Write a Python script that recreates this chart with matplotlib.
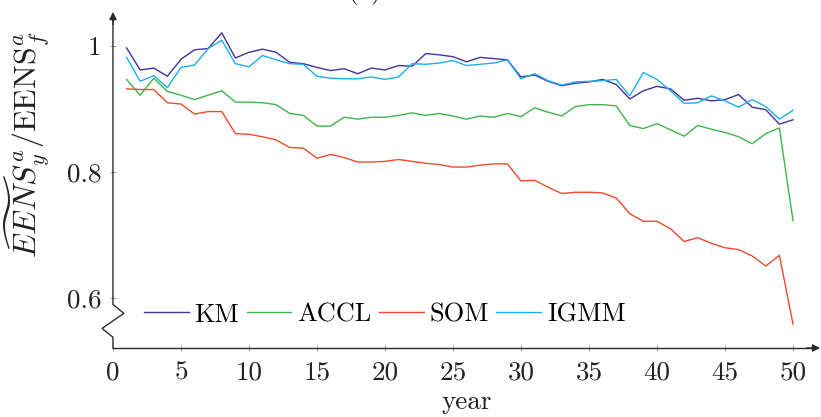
import matplotlib
matplotlib.use("Agg")
import matplotlib.pyplot as plt

# Relative expected energy not served per year, by clustering method
years = list(range(1, 51))

km = [0.997, 0.962, 0.965, 0.952, 0.979, 0.994, 0.996, 1.021, 0.981, 0.990,
      0.995, 0.990, 0.974, 0.972, 0.966, 0.961, 0.964, 0.956, 0.965, 0.962,
      0.969, 0.968, 0.988, 0.986, 0.983, 0.975, 0.982, 0.980, 0.978, 0.951,
      0.954, 0.944, 0.937, 0.941, 0.943, 0.947, 0.939, 0.916, 0.929, 0.936,
      0.932, 0.914, 0.917, 0.913, 0.915, 0.923, 0.903, 0.899, 0.876, 0.883]

accl = [0.947, 0.922, 0.949, 0.928, 0.922, 0.915, 0.922, 0.929, 0.911, 0.911,
        0.910, 0.907, 0.893, 0.890, 0.873, 0.873, 0.887, 0.884, 0.887, 0.887,
        0.890, 0.894, 0.890, 0.893, 0.889, 0.884, 0.889, 0.887, 0.893, 0.888,
        0.902, 0.895, 0.889, 0.904, 0.907, 0.907, 0.905, 0.874, 0.869, 0.877,
        0.867, 0.857, 0.874, 0.868, 0.863, 0.856, 0.845, 0.861, 0.870, 0.723]

som = [0.932, 0.931, 0.931, 0.910, 0.908, 0.892, 0.896, 0.896, 0.861, 0.860,
       0.856, 0.851, 0.839, 0.838, 0.822, 0.828, 0.823, 0.816, 0.816, 0.817,
       0.820, 0.817, 0.814, 0.812, 0.808, 0.808, 0.811, 0.813, 0.813, 0.786,
       0.787, 0.776, 0.766, 0.768, 0.768, 0.767, 0.759, 0.734, 0.722, 0.722,
       0.710, 0.690, 0.696, 0.687, 0.680, 0.677, 0.667, 0.651, 0.668, 0.559]

igmm = [0.982, 0.944, 0.953, 0.934, 0.966, 0.970, 0.996, 1.009, 0.972, 0.967,
        0.985, 0.978, 0.972, 0.971, 0.952, 0.949, 0.948, 0.948, 0.951, 0.947,
        0.951, 0.972, 0.971, 0.973, 0.977, 0.969, 0.971, 0.973, 0.978, 0.948,
        0.956, 0.945, 0.938, 0.943, 0.944, 0.945, 0.947, 0.921, 0.958, 0.947,
        0.929, 0.909, 0.910, 0.921, 0.913, 0.903, 0.915, 0.904, 0.884, 0.898]

series_names = ["KM", "ACCL", "SOM", "IGMM"]
series_values = [km, accl, som, igmm]
series_colors = ["#44329a", "#3fb44c", "#ef4a2c", "#1eaeea"]

x_ticks = [0, 5, 10, 15, 20, 25, 30, 35, 40, 45, 50]
y_ticks = [0.6, 0.8, 1.0]
y_tick_labels = ["0.6", "0.8", "1"]

plt.rcParams["font.family"] = "cmr10"
plt.rcParams["mathtext.fontset"] = "cm"
plt.rcParams["axes.formatter.use_mathtext"] = True
FS = 19.5

fig = plt.figure(figsize=(8.21, 4.17), dpi=100)
ax = fig.add_axes([0.1376, 0.1655, 0.8614, 0.8058])

x_lo, x_hi = 0.0, 52.0
y_lo, y_hi = 0.521, 1.054
ax.set_xlim(x_lo, x_hi)
ax.set_ylim(y_lo, y_hi)

for name, vals, col in zip(series_names, series_values, series_colors):
    ax.plot(years, vals, color=col, lw=1.0, label=name)

for s in ax.spines.values():
    s.set_visible(False)

axis_col = "#2b2b2b"
# y axis with a zig-zag break below 0.6
ax.plot([0, 0, 0.8, -0.8, 0, 0], [y_hi - 0.005, 0.590, 0.576, 0.552, 0.538, y_lo],
        color=axis_col, lw=1.0, clip_on=False, solid_joinstyle="miter")
ax.plot([x_lo, x_hi - 0.3], [y_lo, y_lo], color=axis_col, lw=1.0, clip_on=False)
arrow = dict(arrowstyle="-|>", color=axis_col, lw=1.0, mutation_scale=11,
             shrinkA=0, shrinkB=0)
ax.annotate("", xy=(0, y_hi), xytext=(0, y_hi - 0.02), arrowprops=arrow,
            annotation_clip=False)
ax.annotate("", xy=(x_hi, y_lo), xytext=(x_hi - 1.0, y_lo), arrowprops=arrow,
            annotation_clip=False)

ax.set_xticks(x_ticks)
ax.set_xticklabels([str(t) for t in x_ticks])
ax.set_yticks(y_ticks)
ax.set_yticklabels(y_tick_labels)
ax.tick_params(axis="both", direction="inout", length=5, width=0.6,
               color="#8a8a8a", labelsize=FS, labelcolor="#222222")
ax.tick_params(axis="x", pad=7)
ax.tick_params(axis="y", pad=6)

ax.set_xlabel("year", fontsize=FS, color="#222222", labelpad=4)
ax.set_ylabel(r"$\widetilde{EEN}S_y^a/\mathrm{EENS}_f^a$", fontsize=23,
              color="#222222")
ax.yaxis.set_label_coords(-0.087, 0.607)

ax.legend(loc="center left", bbox_to_anchor=(0.0436, 0.099), ncol=4,
          frameon=False, fontsize=19, handlelength=1.7, handletextpad=0.22,
          columnspacing=0.28, borderpad=0, borderaxespad=0)

fig.text(365 / 821, 1 + 2 / 417, "(a)", ha="center", va="baseline",
         fontsize=FS, color="#222222")

fig.savefig("out.png", dpi=100)
